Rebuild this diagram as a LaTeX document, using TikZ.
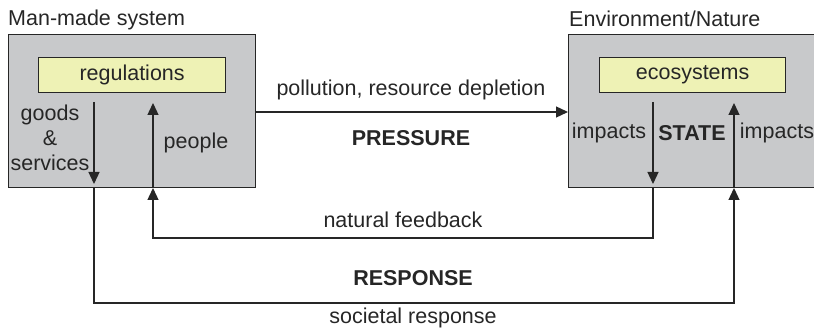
\documentclass[tikz,border=0pt]{standalone}
\usepackage{fontspec}
\setmainfont{Liberation Sans}
\usetikzlibrary{arrows.meta}
\definecolor{boxgray}{HTML}{C8C9CB}
\definecolor{paleyellow}{HTML}{EEF2B5}
\definecolor{ink}{HTML}{262626}
\begin{document}
\begin{tikzpicture}[x=1pt,y=-1pt,
  system/.style={draw=ink, line width=1.3pt, fill=boxgray, inner sep=0pt, anchor=north west},
  inner/.style={draw=ink, line width=1.2pt, fill=paleyellow, inner sep=0pt, anchor=north west,
    font=\fontsize{21.5}{25}\selectfont, text=ink},
  lbl/.style={font=\fontsize{21.5}{25}\selectfont, text=ink, inner sep=0pt},
  heading/.style={lbl, font=\fontsize{21.5}{25}\selectfont\bfseries},
  flow/.style={draw=ink, line width=1.3pt, -{Triangle[length=12pt,width=11pt]}},
  link/.style={draw=ink, line width=1.3pt}]
\clip (0,0) rectangle (814,328);

% the two systems
\node[system, minimum width=247pt, minimum height=153pt] (man) at (8,34) {};
\node[system, minimum width=262pt, minimum height=153pt] (env) at (568,34) {};
\node[inner, minimum width=187pt, minimum height=35pt] (reg) at (38,57) {regulations};
\node[inner, minimum width=186pt, minimum height=35pt] (eco) at (599,57) {ecosystems};

\node[lbl, anchor=base west] (manlbl) at (8,26) {Man-made system};
\node[lbl, anchor=base west] (envlbl) at (569,27) {Environment/Nature};

% attachment points of the flows
\coordinate (goodsTop) at (94,102);
\coordinate (goodsEnd) at (94,184);
\coordinate (goodsOut) at (94,187);
\coordinate (peopleIn) at (153,188);
\coordinate (peopleTop) at (153,103);
\coordinate (peopleBot) at (153,187);
\coordinate (impDownTop) at (653,102);
\coordinate (impDownEnd) at (653,184);
\coordinate (impDownOut) at (653,187);
\coordinate (impUpTop) at (734,103);
\coordinate (impUpBot) at (734,187);
\coordinate (impUpIn) at (734,188);

% flows inside the systems
\draw[flow] (goodsTop) -- (goodsEnd);
\draw[flow] (peopleBot) -- (peopleTop);
\draw[flow] (impDownTop) -- (impDownEnd);
\draw[flow] (impUpBot) -- (impUpTop);

% pressure
\draw[flow] (man.east |- 0,112) -- (env.west |- 0,112);

% natural feedback and societal response loops
\draw[flow] (impDownOut) |- (153,238) -- (peopleIn);
\draw[flow] (goodsOut) |- (734,303) -- (impUpIn);

% labels
\node[lbl, align=center] (goods) at (50,138) {goods\\\&\\services};
\node[lbl] (people) at (196,143) {people};
\node[lbl] (impL) at (609,133) {impacts};
\node[heading] (state) at (692,133) {STATE};
\node[lbl] (impR) at (777,133) {impacts};
\node[lbl] (poll) at (411,90) {pollution, resource depletion};
\node[heading] (press) at (411,138) {PRESSURE};
\node[lbl] (nat) at (403,220) {natural feedback};
\node[heading] (resp) at (413,278) {RESPONSE};
\node[lbl] (soc) at (413,318) {societal response};
\end{tikzpicture}
\end{document}
